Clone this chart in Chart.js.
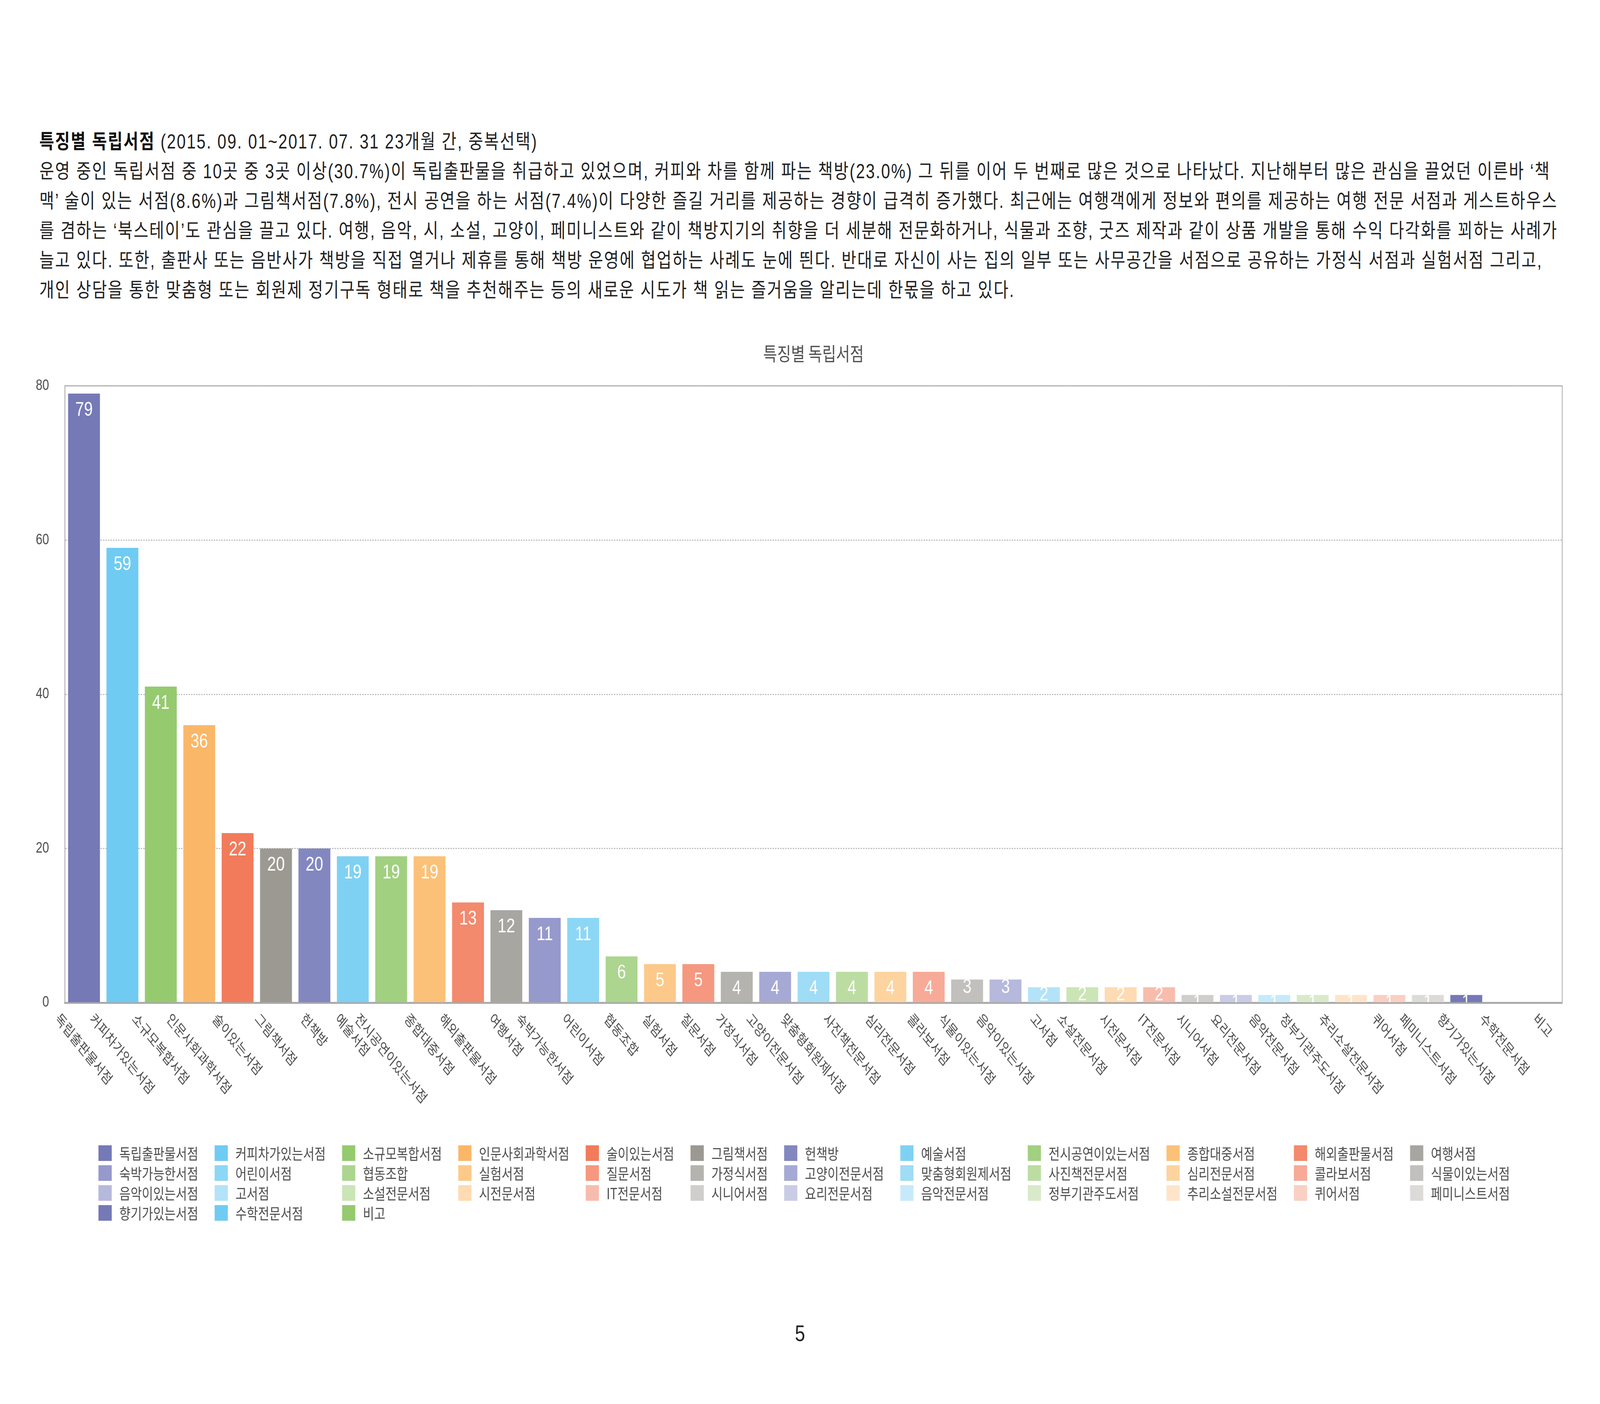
<!DOCTYPE html>
<html lang="ko">
<head>
<meta charset="utf-8">
<script src="https://cdn.jsdelivr.net/npm/chart.js@4.4.0/dist/chart.umd.min.js"></script>
<style>
html,body{margin:0;padding:0;background:#fff;overflow:hidden;}
#outer{position:relative;overflow:hidden;background:#fff;}
#root{position:absolute;left:0;top:0;width:5085px;height:3593px;transform-origin:0 0;background:#fff;}
#intro{position:absolute;left:125px;top:325px;font-family:"Liberation Sans","Noto Sans CJK KR",sans-serif;font-size:51px;letter-spacing:3.15px;line-height:76px;color:#222;white-space:nowrap;}
#intro b{font-weight:700;color:#111;}
#wrap{position:absolute;left:0;top:840px;width:5085px;height:2360px;}
#page{position:absolute;left:0;width:5085px;top:3379px;text-align:center;font-family:"Liberation Sans",sans-serif;font-size:58px;line-height:66px;color:#222;}
</style>
</head>
<body>
<div id="outer">
<div id="root">
<div id="intro"><b>특징별 독립서점</b> (2015. 09. 01~2017. 07. 31 23개월 간, 중복선택)<br>운영 중인 독립서점 중 10곳 중 3곳 이상(30.7%)이 독립출판물을 취급하고 있었으며, 커피와 차를 함께 파는 책방(23.0%) 그 뒤를 이어 두 번째로 많은 것으로 나타났다. 지난해부터 많은 관심을 끌었던 이른바 ‘책<br>맥’ 술이 있는 서점(8.6%)과 그림책서점(7.8%), 전시 공연을 하는 서점(7.4%)이 다양한 즐길 거리를 제공하는 경향이 급격히 증가했다. 최근에는 여행객에게 정보와 편의를 제공하는 여행 전문 서점과 게스트하우스<br>를 겸하는 ‘북스테이’도 관심을 끌고 있다. 여행, 음악, 시, 소설, 고양이, 페미니스트와 같이 책방지기의 취향을 더 세분해 전문화하거나, 식물과 조향, 굿즈 제작과 같이 상품 개발을 통해 수익 다각화를 꾀하는 사례가<br>늘고 있다. 또한, 출판사 또는 음반사가 책방을 직접 열거나 제휴를 통해 책방 운영에 협업하는 사례도 눈에 띈다. 반대로 자신이 사는 집의 일부 또는 사무공간을 서점으로 공유하는 가정식 서점과 실험서점 그리고,<br>개인 상담을 통한 맞춤형 또는 회원제 정기구독 형태로 책을 추천해주는 등의 새로운 시도가 책 읽는 즐거움을 알리는데 한몫을 하고 있다.</div>
<div id="wrap"><canvas id="c" width="5085" height="2360"></canvas></div>
<div id="page">5</div>
</div>
</div>
<script>
const chartTitle = '특징별 독립서점';
const categories = ['독립출판물서점','커피차가있는서점','소규모복합서점','인문사회과학서점','술이있는서점','그림책서점','헌책방','예술서점','전시공연이있는서점','종합대중서점','해외출판물서점','여행서점','숙박가능한서점','어린이서점','협동조합','실험서점','질문서점','가정식서점','고양이전문서점','맞춤형회원제서점','사진책전문서점','심리전문서점','콜라보서점','식물이있는서점','음악이있는서점','고서점','소설전문서점','시전문서점','IT전문서점','시니어서점','요리전문서점','음악전문서점','정부기관주도서점','추리소설전문서점','퀴어서점','페미니스트서점','향기가있는서점','수학전문서점','비고'];
const counts = [79,59,41,36,22,20,20,19,19,19,13,12,11,11,6,5,5,4,4,4,4,4,4,3,3,2,2,2,2,1,1,1,1,1,1,1,1,0,0];
const yTicks = [0,20,40,60,80];
const barColors = [
  '#7579b6','#70cbf2','#95ca6f','#fab768','#f27b5b','#9c9993',
  '#8387c0','#7fd1f3','#a1d080','#fbc178','#f3896d','#a8a6a1',
  '#9699cb','#8cd7f5','#acd58f','#fcc98a','#f5987f','#b5b3ae',
  '#a6a9d4','#9fdcf6','#bcdda2','#fdd49f','#f7aa97','#c2c0bc',
  '#b6b8dc','#b3e3f8','#cbe5b6','#fedbb2','#f8bcad','#d0cecc',
  '#cacce6','#c7eafa','#d9eacb','#fee5c9','#facfc4','#dcdbd8',
  '#7579b6','#70cbf2','#95ca6f'
];

(function fit() {
  // the window may be narrower than the 5085x3593 page: stretch the page onto it
  const sx = window.innerWidth / 5085;
  const sy = window.innerHeight / 3593;
  const outer = document.getElementById('outer');
  outer.style.width = window.innerWidth + 'px';
  outer.style.height = window.innerHeight + 'px';
  document.getElementById('root').style.transform = 'scale(' + sx + ',' + sy + ')';
})();

const KR = '"Noto Sans CJK KR", sans-serif';
const LAT = '"Liberation Sans", "Noto Sans CJK KR", sans-serif';

const framePlugin = {
  id: 'frame',
  beforeDatasetsDraw(chart) {
    const {ctx, chartArea: a} = chart;
    ctx.save();
    ctx.strokeStyle = '#aaaaaa';
    ctx.lineWidth = 2.5;
    ctx.beginPath();
    ctx.moveTo(a.left, a.top);
    ctx.lineTo(a.right, a.top);
    ctx.lineTo(a.right, a.bottom);
    ctx.stroke();
    ctx.restore();
  }
};

const barLabelPlugin = {
  id: 'barLabels',
  afterDatasetsDraw(chart) {
    const {ctx} = chart;
    const meta = chart.getDatasetMeta(0);
    ctx.save();
    ctx.font = '50px ' + LAT;
    ctx.fillStyle = '#ffffff';
    ctx.textAlign = 'center';
    ctx.textBaseline = 'middle';
    meta.data.forEach((bar, i) => {
      const v = counts[i];
      if (!v) return;
      const p = bar.getProps(['x', 'y', 'base', 'width'], true);
      const h = p.base - p.y;
      const off = h >= 70 ? 43 : 20;
      ctx.save();
      ctx.beginPath();
      ctx.rect(p.x - p.width / 2, p.y, p.width, h);
      ctx.clip();
      ctx.fillText(String(v), p.x, p.y + off);
      ctx.restore();
    });
    ctx.restore();
  }
};

const xLabelPlugin = {
  id: 'xLabels',
  afterDraw(chart) {
    const {ctx, chartArea: a, scales: {x}} = chart;
    const fs = 37;
    ctx.save();
    ctx.font = fs + 'px ' + KR;
    ctx.fillStyle = '#4d4d4d';
    ctx.textAlign = 'center';
    ctx.textBaseline = 'middle';
    const top = a.bottom + 22;
    categories.forEach((lab, i) => {
      const px = x.getPixelForTick(i);
      const w = ctx.measureText(lab).width;
      const half = (w + fs * 0.9) * Math.SQRT1_2 / 2;
      ctx.save();
      ctx.translate(px, top + half);
      ctx.rotate(Math.PI / 4);
      ctx.fillText(lab, 0, 0);
      ctx.restore();
    });
    ctx.restore();
  }
};

const legendPlugin = {
  id: 'gridLegend',
  afterDraw(chart) {
    const {ctx, chartArea: a} = chart;
    const perRow = 12, boxW = 42, boxH = 40, gap = 24, colGap = 52, rowH = 51;
    ctx.save();
    ctx.font = '39px ' + KR;
    const maxW = new Array(perRow).fill(0);
    categories.forEach((lab, i) => {
      const c = i % perRow;
      maxW[c] = Math.max(maxW[c], ctx.measureText(lab).width);
    });
    const colX = [a.left + 107];
    for (let c = 1; c < perRow; c++) colX[c] = colX[c - 1] + boxW + gap + maxW[c - 1] + colGap;
    const top = a.bottom + 365;
    ctx.textAlign = 'left';
    ctx.textBaseline = 'middle';
    categories.forEach((lab, i) => {
      const r = Math.floor(i / perRow), c = i % perRow;
      const y = top + r * rowH;
      ctx.fillStyle = barColors[i];
      ctx.fillRect(colX[c], y, boxW, boxH);
      ctx.fillStyle = '#4d4d4d';
      ctx.fillText(lab, colX[c] + boxW + gap, y + boxH / 2 + 1);
    });
    ctx.restore();
  }
};

new Chart(document.getElementById('c'), {
  type: 'bar',
  data: {
    labels: categories,
    datasets: [{
      data: counts,
      backgroundColor: barColors,
      borderWidth: 0,
      categoryPercentage: 1,
      barPercentage: 0.83
    }]
  },
  options: {
    responsive: false,
    devicePixelRatio: 1,
    animation: false,
    layout: {padding: {left: 0, right: 120, top: 0, bottom: 634}},
    plugins: {
      legend: {display: false},
      tooltip: {enabled: false},
      title: {
        display: true,
        text: chartTitle,
        fullSize: false,
        color: '#505050',
        font: {size: 48, family: KR, weight: 'normal'},
        padding: {top: 36, bottom: 54}
      }
    },
    scales: {
      x: {
        grid: {display: false, drawTicks: false},
        ticks: {display: false},
        border: {display: true, color: '#aaaaaa', width: 5}
      },
      y: {
        min: 0,
        max: 80,
        afterBuildTicks(s) { s.ticks = yTicks.map(v => ({value: v})); },
        afterFit(s) { s.width = 206; },
        ticks: {padding: 50, color: '#4d4d4d', font: {size: 38, family: LAT}},
        grid: {color: '#aaaaaa', lineWidth: 2.5, drawTicks: false},
        border: {display: true, color: '#aaaaaa', width: 2.5, dash: [4, 4]}
      }
    }
  },
  plugins: [framePlugin, barLabelPlugin, xLabelPlugin, legendPlugin]
});
</script>
</body>
</html>
